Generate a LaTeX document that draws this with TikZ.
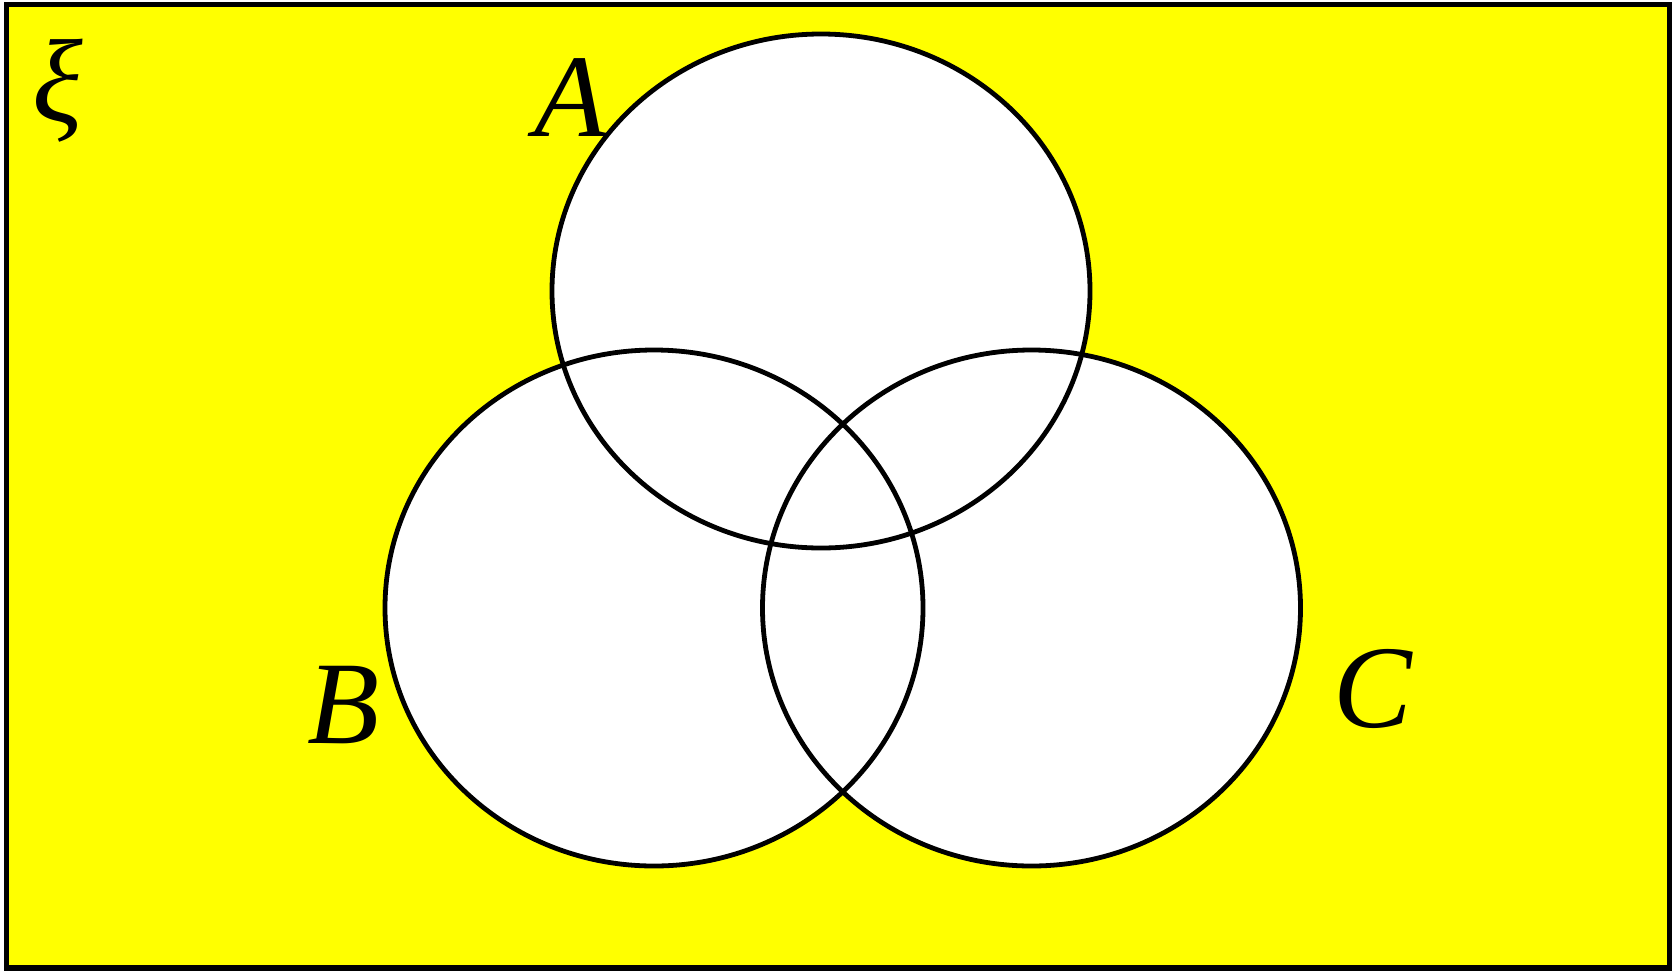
\documentclass[tikz,border=0pt]{standalone}
\usepackage{fontspec}
\setmainfont{Liberation Serif}
\definecolor{pureyellow}{RGB}{255,255,0}

\begin{document}
\begin{tikzpicture}[
  x=1pt, y=-1pt,
  frame/.style={draw=black, line width=5.5pt, fill=pureyellow},
  setshape/.style={draw=black, line width=4.8pt},
  setlabel/.style={font=\fontsize{118}{118}\selectfont\itshape, inner sep=0pt}
]
  \useasboundingbox (0,0) rectangle (1676,970);
  \draw[frame] (6.5,4.5) rectangle (1669.5,968);

  % white sets, then outlines on top
  \fill[white] (821,291) ellipse [x radius=269, y radius=257];
  \fill[white] (654,608) ellipse [x radius=269, y radius=258];
  \fill[white] (1031.5,608) ellipse [x radius=269, y radius=258];
  \draw[setshape] (821,291) ellipse [x radius=269, y radius=257];
  \draw[setshape] (654,608) ellipse [x radius=269, y radius=258];
  \draw[setshape] (1031.5,608) ellipse [x radius=269, y radius=258];

  \node[setlabel] (xi) at (58,91) {ξ};
  \node[setlabel] (seta) at (571,98) {A};
  \node[setlabel] (setb) at (344,705) {B};
  \node[setlabel] (setc) at (1373,689) {C};
\end{tikzpicture}
\end{document}
